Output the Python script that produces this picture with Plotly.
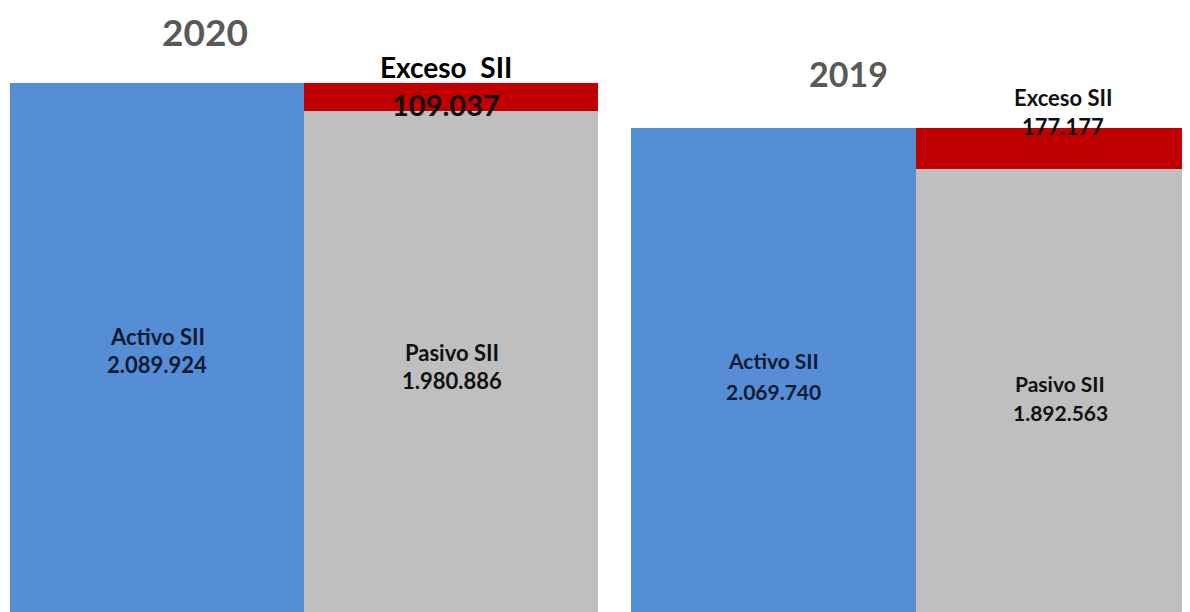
import plotly.graph_objects as go

years = ["2020", "2019"]
activo = [2089924, 2069740]
pasivo = [1980886, 1892563]
exceso = [109037, 177177]
activo_lbl = ["2.089.924", "2.069.740"]
pasivo_lbl = ["1.980.886", "1.892.563"]
exceso_lbl = ["109.037", "177.177"]

BLUE = "#558ED5"
GRAY = "#BFBFBF"
RED = "#C00000"
FONT = "Lato"

# page body has an 8px margin; size the figure to fill the rest of the window
OFF = 8
W, H = 1190 - OFF, 612 - OFF
fig = go.Figure()

axes = [("x", "y"), ("x2", "y2")]
for i in range(2):
    xa, ya = axes[i]
    fig.add_trace(go.Bar(x=[0], y=[activo[i]], width=1, marker=dict(color=BLUE, line_width=0),
                         xaxis=xa, yaxis=ya, showlegend=False, hoverinfo="skip"))
    fig.add_trace(go.Bar(x=[1], y=[pasivo[i]], width=1, marker=dict(color=GRAY, line_width=0),
                         xaxis=xa, yaxis=ya, showlegend=False, hoverinfo="skip"))
    fig.add_trace(go.Bar(x=[1], y=[exceso[i]], base=[pasivo[i]], width=1,
                         marker=dict(color=RED, line_width=0),
                         xaxis=xa, yaxis=ya, showlegend=False, hoverinfo="skip"))

def ann(x_px, y_px, text, size, color="#000000"):
    fig.add_annotation(x=(x_px - OFF) / W, y=1 - (y_px - OFF) / H, xref="paper", yref="paper",
                       text=text, showarrow=False, xanchor="center", yanchor="middle",
                       font=dict(family=FONT, size=size, color=color, weight="bold"))

# 2020 panel
ann(205, 31, years[0], 37, "#595959")
ann(157, 337, "Activo SII", 22, "#0F1A33")
ann(157, 364, activo_lbl[0], 22, "#0F1A33")
ann(452, 352, "Pasivo SII", 22, "#111111")
ann(452, 380, pasivo_lbl[0], 22, "#111111")
ann(446, 67, "Exceso  SII", 28)
ann(446, 105, exceso_lbl[0], 29, "#111111")

# 2019 panel
ann(848, 73, years[1], 34, "#595959")
ann(773, 360, "Activo SII", 21, "#0F1A33")
ann(773, 391, activo_lbl[1], 21, "#0F1A33")
ann(1060, 383, "Pasivo SII", 21, "#111111")
ann(1060, 412, pasivo_lbl[1], 21, "#111111")
ann(1063, 97, "Exceso SII", 22, "#111111")
ann(1063, 127, exceso_lbl[1], 22, "#111111")

hidden = dict(visible=False, showgrid=False, zeroline=False, fixedrange=True)
fig.update_layout(
    width=W, height=H,
    margin=dict(l=0, r=0, t=0, b=0),
    paper_bgcolor="white", plot_bgcolor="white",
    barmode="overlay", bargap=0,
    xaxis=dict(domain=[(10 - OFF) / W, (598 - OFF) / W], range=[-0.5, 1.5], **hidden),
    yaxis=dict(domain=[0, 1], range=[0, 2386000], **hidden),
    xaxis2=dict(domain=[(631 - OFF) / W, 1], range=[-0.5, 1.461], anchor="y2", **hidden),
    yaxis2=dict(domain=[0, 1], range=[0, 2583000], anchor="x2", **hidden),
    showlegend=False,
)

fig.write_html("out.html")
